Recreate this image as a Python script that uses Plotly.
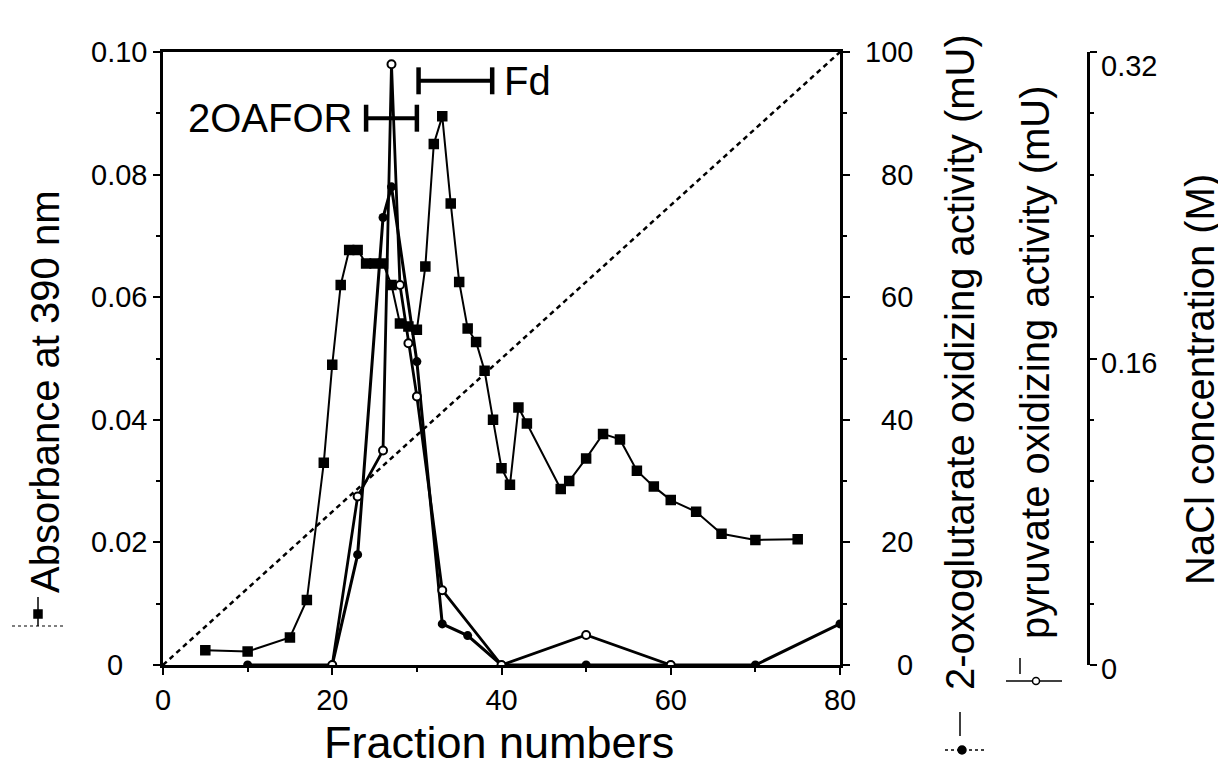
import plotly.graph_objects as go

# ---------------- data ----------------
abs_frac = [5, 10, 15, 17, 19, 20, 21, 22, 23, 24, 25, 26, 27, 28, 29, 30, 31, 32, 33, 34, 35,
            36, 37, 38, 39, 40, 41, 42, 43, 47, 48, 50, 52, 54, 56, 58, 60, 63, 66, 70, 75]
abs_val = [0.0024, 0.0022, 0.0045, 0.0106, 0.033, 0.049, 0.062, 0.0677, 0.0677, 0.0655, 0.0655,
           0.0655, 0.062, 0.0557, 0.0552, 0.0547, 0.065, 0.085, 0.0895, 0.0753, 0.0625,
           0.0549, 0.0527, 0.048, 0.040, 0.0321, 0.0294, 0.042, 0.0394, 0.0287, 0.030, 0.0337,
           0.0377, 0.0368, 0.0317, 0.0291, 0.0269, 0.025, 0.0214, 0.0204, 0.0205]

oxo_frac = [10, 20, 23, 26, 27, 30, 33, 36, 40, 50, 60, 70, 80]
oxo_val = [0, 0, 18, 73, 78, 49.5, 6.7, 4.8, 0, 0, 0, 0, 6.7]

pyr_frac = [20, 23, 26, 27, 28, 29, 30, 33, 40, 50, 60]
pyr_val = [0, 27.5, 35, 98, 62, 52.5, 43.8, 12.2, 0, 4.9, 0]

nacl_frac = [0, 80]
nacl_val = [0, 0.32]

# pooled fraction ranges (label, start, end, level on absorbance scale)
pool_labels = ["2OAFOR", "Fd"]
pool_start = [24.0, 30.2]
pool_end = [30.0, 38.9]
pool_level = [0.0892, 0.0953]

x_ticks = [0, 20, 40, 60, 80]
x_minor = [10, 30, 50, 70]
y_ticks = [0, 0.02, 0.04, 0.06, 0.08, 0.10]
y_ticktext = ["0", "0.02", "0.04", "0.06", "0.08", "0.10"]
y2_ticks = [0, 20, 40, 60, 80, 100]
y3_ticks = [0, 0.16, 0.32]
y3_ticktext = ["0", "0.16", "0.32"]

# ---------------- geometry helpers ----------------
OFF = 8                                # page body margin
W, H = 1226 - OFF, 775 - OFF
PL, PR, PT, PB = 163, 1088, 52, 665   # paper area in window pixels
XR = 840                              # right edge of main plot
PW, PH = PR - PL, PB - PT


def px(xp):
    return (xp - PL) / PW


def py(yp):
    return (PB - yp) / PH


FONT = "Arial, Liberation Sans, Helvetica, sans-serif"
BLACK = "black"

fig = go.Figure()

fig.add_trace(go.Scatter(x=nacl_frac, y=nacl_val, yaxis="y3", mode="lines",
                         line=dict(color=BLACK, width=2.5, dash="5px,4px"),
                         showlegend=False, hoverinfo="skip"))
fig.add_trace(go.Scatter(x=abs_frac, y=abs_val, yaxis="y", mode="lines+markers",
                         line=dict(color=BLACK, width=2),
                         marker=dict(symbol="square-x", size=9, color=BLACK,
                                     line=dict(color=BLACK, width=1.5)),
                         showlegend=False))
fig.add_trace(go.Scatter(x=oxo_frac, y=oxo_val, yaxis="y2", mode="lines+markers",
                         line=dict(color=BLACK, width=3),
                         marker=dict(symbol="circle", size=9, color=BLACK),
                         showlegend=False))
fig.add_trace(go.Scatter(x=pyr_frac, y=pyr_val, yaxis="y2", mode="lines+markers",
                         line=dict(color=BLACK, width=2.8),
                         marker=dict(symbol="circle", size=8, color="white",
                                     line=dict(color=BLACK, width=2)),
                         showlegend=False))

axis_common = dict(showgrid=False, zeroline=False, linecolor=BLACK, linewidth=2.5,
                   ticks="outside", tickcolor=BLACK, tickwidth=2, ticklen=7,
                   tickfont=dict(family=FONT, size=29, color=BLACK))

fig.update_layout(
    width=W, height=H,
    margin=dict(l=PL - OFF, r=W - (PR - OFF), t=PT - OFF, b=H - (PB - OFF), pad=0),
    paper_bgcolor="white", plot_bgcolor="white",
    showlegend=False,
    xaxis=dict(domain=[0, (XR - PL) / PW], range=[0, 80], tickvals=x_ticks,
               mirror=True,
               minor=dict(tickvals=x_minor, ticks="outside", ticklen=4, tickcolor=BLACK,
                          tickwidth=2),
               **axis_common),
    yaxis=dict(range=[0, 0.10], tickvals=y_ticks, showticklabels=False,
               minor=dict(dtick=0.01, ticks="outside", ticklen=4, tickcolor=BLACK,
                          tickwidth=2),
               **axis_common),
    yaxis2=dict(range=[0, 100], overlaying="y", side="right", anchor="x",
                tickvals=y2_ticks, showticklabels=False,
                minor=dict(dtick=10, ticks="outside", ticklen=4, tickcolor=BLACK,
                           tickwidth=2),
                **axis_common),
    yaxis3=dict(range=[0, 0.32], overlaying="y", side="right", anchor="free", position=1.0,
                tickvals=y3_ticks, showticklabels=False,
                minor=dict(dtick=0.032, ticks="outside", ticklen=4, tickcolor=BLACK,
                           tickwidth=2),
                **axis_common),
)

TK = dict(family=FONT, size=29, color=BLACK)
ann = []
# left tick labels (the "0" sits indented, as in the original)
for v, t in zip(y_ticks, y_ticktext):
    if t == "0":
        ann.append(dict(x=px(115), xref="paper", y=v, yref="y", text=t, showarrow=False,
                        xanchor="center", yanchor="middle", font=TK))
    else:
        ann.append(dict(x=px(149), xref="paper", y=v, yref="y", text=t, showarrow=False,
                        xanchor="right", yanchor="middle", font=TK))
# right activity axis labels, right-aligned
for v in y2_ticks:
    ann.append(dict(x=px(915), xref="paper", y=v, yref="y2", text=str(v), showarrow=False,
                    xanchor="right", yanchor="middle", font=TK))
# NaCl axis labels
for v, t in zip(y3_ticks, y3_ticktext):
    shift = -14 if v == max(y3_ticks) else (-4 if v > 0 else -4)
    ann.append(dict(x=px(1099), xref="paper", y=v, yref="y3", text=t, showarrow=False,
                    xanchor="left", yanchor="middle", yshift=shift, font=TK))

TF = dict(family=FONT, size=40, color=BLACK)
ann += [
    dict(x=px(499), y=py(742), xref="paper", yref="paper", text="Fraction numbers",
         showarrow=False, xanchor="center", yanchor="middle",
         font=dict(family=FONT, size=45, color=BLACK)),
    dict(x=px(45), y=py(392), xref="paper", yref="paper", text="Absorbance at 390 nm",
         showarrow=False, textangle=-90, xanchor="center", yanchor="middle", font=TF),
    dict(x=px(960), y=py(362), xref="paper", yref="paper",
         text="2-oxoglutarate oxidizing activity (mU)",
         showarrow=False, textangle=-90, xanchor="center", yanchor="middle", font=TF),
    dict(x=px(1035), y=py(362), xref="paper", yref="paper",
         text="pyruvate oxidizing activity (mU)",
         showarrow=False, textangle=-90, xanchor="center", yanchor="middle", font=TF),
    dict(x=px(1200), y=py(380), xref="paper", yref="paper", text="NaCl concentration (M)",
         showarrow=False, textangle=-90, xanchor="center", yanchor="middle", font=TF),
]

shapes = []
# pooled-fraction brackets
cap = 0.0022
for lab, s, e, lev in zip(pool_labels, pool_start, pool_end, pool_level):
    shapes.append(dict(type="line", xref="x", yref="y", x0=s, x1=e, y0=lev, y1=lev,
                       line=dict(color=BLACK, width=4)))
    for xx in (s, e):
        shapes.append(dict(type="line", xref="x", yref="y", x0=xx, x1=xx,
                           y0=lev - cap, y1=lev + cap, line=dict(color=BLACK, width=4.5)))
    if lab == "Fd":
        ann.append(dict(x=e, y=lev, xref="x", yref="y", text=lab, showarrow=False,
                        xanchor="left", yanchor="middle", xshift=10, font=TF))
    else:
        ann.append(dict(x=s, y=lev, xref="x", yref="y", text=lab, showarrow=False,
                        xanchor="right", yanchor="middle", xshift=-12, font=TF))


def pline(x0, y0, x1, y1, w=1.5, dash=None):
    d = dict(color=BLACK, width=w)
    if dash:
        d["dash"] = dash
    shapes.append(dict(type="line", xref="paper", yref="paper",
                       x0=px(x0), y0=py(y0), x1=px(x1), y1=py(y1), line=d))


def pmark(xc, yc, r, kind, fill):
    shapes.append(dict(type=kind, xref="paper", yref="paper",
                       x0=px(xc - r), x1=px(xc + r), y0=py(yc - r), y1=py(yc + r),
                       line=dict(color=BLACK, width=1.5), fillcolor=fill))


# legend keys beside the axis titles
pline(38, 597, 38, 626, 1.5)
pline(12, 626, 64, 626, 1.2, "dot")
pmark(38, 614, 4, "rect", BLACK)

pline(960, 712, 960, 736, 1.5)
pline(945, 750, 985, 750, 1.5, "dot")
pmark(962, 750, 4, "circle", BLACK)

pline(1020, 658, 1020, 674, 1.5)
pline(1006, 681, 1062, 681, 1.5)
pmark(1036, 681, 3.5, "circle", "white")

fig.update_layout(annotations=ann, shapes=shapes)

fig.write_html("out.html")
